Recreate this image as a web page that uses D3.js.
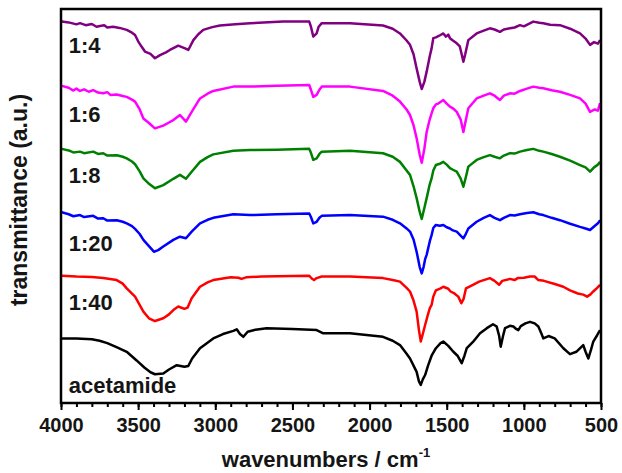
<!DOCTYPE html>
<html>
<head>
<meta charset="utf-8">
<script src="https://cdn.jsdelivr.net/npm/d3@7"></script>
<style>
  body { margin: 0; background: white; }
  text { font-family: "Liberation Sans", Arial, sans-serif; font-weight: bold; fill: #151515; }
</style>
</head>
<body>
<div id="ftir-container"></div>
<script>
/* series names, colors, vertical offsets (a.u.) and label heights above each offset */
var seriesNames = ["1:4", "1:6", "1:8", "1:20", "1:40", "acetamide"]
var seriesColors = ["#800080", "#ff00ff", "#008000", "#0000ff", "#ff0000", "#000000"]
var seriesOffsets = [80, 64, 48, 32, 16, 0]
var labelHeights = [8.8, 7.3, 7.8, 6.6, 7.6, 2.6]

/* x axis ticks */
var majorTicks = [4000, 3500, 3000, 2500, 2000, 1500, 1000, 500]
var minorTicks = d3.range(500, 4001, 100)

/* spectra: [wavenumber, transmittance a.u. above offset] */
var spec_1_4 = [[3995,16.8],[3950,16.6],[3900,16.1],[3877,16.4],[3840,15.9],[3800,16.2],[3770,15.5],[3747,15.7],[3720,15.9],[3700,15.3],[3663,15.5],[3620,15.2],[3574,14.7],[3540,14.0],[3520,13.4],[3500,11.8],[3477,10.4],[3456,9.2],[3420,8.6],[3391,7.5],[3358,8.3],[3320,9.0],[3294,9.6],[3240,10.7],[3196,10.0],[3175,9.6],[3142,12.1],[3110,13.6],[3078,14.7],[3020,15.4],[2970,15.8],[2870,16.1],[2775,16.4],[2561,16.8],[2391,16.8],[2380,15.5],[2365,13.0],[2343,13.8],[2330,15.5],[2310,16.4],[2127,16.4],[1913,15.8],[1850,15.0],[1803,13.8],[1760,12.0],[1738,10.9],[1715,8.5],[1695,4.9],[1675,1.5],[1662,-0.3],[1645,1.5],[1630,4.1],[1610,8.0],[1598,10.0],[1587,12.6],[1570,12.8],[1555,13.1],[1540,13.4],[1522,13.8],[1505,13.0],[1490,13.5],[1479,12.6],[1460,12.0],[1435,11.3],[1415,10.5],[1400,8.0],[1392,6.6],[1380,8.5],[1360,12.1],[1306,13.8],[1260,14.5],[1220,15.1],[1190,14.8],[1155,14.2],[1130,14.8],[1090,15.1],[1060,15.3],[1025,15.9],[1000,15.6],[939,16.8],[900,16.5],[874,16.4],[830,16.0],[766,15.9],[700,15.0],[636,13.8],[600,12.5],[571,10.9],[545,11.6],[520,11.2],[506,12.1]]
var spec_1_6 = [[3995,16.5],[3950,16.0],[3920,15.3],[3900,15.8],[3877,15.2],[3850,15.6],[3820,15.0],[3791,15.4],[3760,14.8],[3726,14.6],[3700,14.9],[3680,14.2],[3639,14.3],[3600,13.9],[3574,13.7],[3540,13.0],[3520,12.5],[3490,10.5],[3466,8.2],[3434,7.2],[3391,5.7],[3337,6.4],[3300,7.2],[3272,7.8],[3229,9.1],[3190,7.4],[3153,9.9],[3099,13.3],[3050,14.5],[3013,15.2],[2883,16.3],[2775,16.3],[2600,16.5],[2391,16.7],[2380,15.5],[2365,13.7],[2343,14.2],[2325,15.5],[2310,16.3],[2127,16.3],[1913,15.2],[1850,14.0],[1803,12.5],[1760,10.5],[1738,9.1],[1715,6.5],[1695,3.2],[1675,-1.0],[1662,-3.0],[1645,0.5],[1630,4.8],[1610,8.0],[1598,9.5],[1587,10.8],[1570,11.8],[1555,12.0],[1522,12.9],[1500,12.0],[1479,11.2],[1460,10.8],[1435,9.9],[1410,8.0],[1392,4.8],[1375,8.0],[1360,10.8],[1306,13.3],[1260,14.0],[1220,14.6],[1190,14.0],[1155,12.9],[1130,14.0],[1090,14.6],[1060,14.5],[1025,15.2],[980,15.8],[939,16.3],[900,16.0],[874,15.9],[820,15.4],[766,15.0],[700,14.2],[636,13.3],[600,12.0],[571,9.9],[540,10.5],[520,10.2],[506,12.1]]
var spec_1_8 = [[3995,16.5],[3950,16.1],[3920,15.6],[3877,15.8],[3850,15.4],[3791,15.8],[3760,15.2],[3726,15.4],[3700,14.8],[3639,14.9],[3600,14.5],[3574,14.1],[3540,13.3],[3520,12.6],[3490,10.8],[3466,9.0],[3434,7.8],[3391,6.5],[3337,7.3],[3272,8.9],[3229,9.9],[3190,8.9],[3153,10.7],[3099,13.2],[3050,14.4],[3013,15.1],[2883,16.0],[2775,16.2],[2600,16.3],[2391,16.5],[2380,15.5],[2365,13.7],[2343,14.1],[2325,15.2],[2310,15.8],[2127,16.0],[1913,15.4],[1850,14.5],[1803,13.2],[1760,11.0],[1738,9.9],[1715,7.0],[1695,4.0],[1675,0.5],[1662,-1.3],[1645,1.5],[1630,4.0],[1610,7.5],[1598,9.0],[1587,11.0],[1570,12.4],[1540,12.8],[1522,13.2],[1500,12.5],[1479,11.6],[1460,11.2],[1435,10.7],[1410,9.0],[1392,6.9],[1375,9.5],[1360,12.0],[1306,13.7],[1260,14.4],[1220,14.9],[1190,14.5],[1155,14.1],[1130,14.8],[1090,15.4],[1060,15.3],[1025,15.8],[980,16.2],[939,16.5],[900,16.0],[874,15.8],[820,15.2],[766,14.5],[700,13.5],[636,12.4],[600,11.8],[571,10.7],[545,11.8],[520,12.5],[506,13.2]]
var spec_1_20 = [[3995,16.4],[3950,15.9],[3920,15.4],[3877,15.7],[3850,15.2],[3791,15.5],[3760,14.8],[3726,14.9],[3700,14.3],[3639,14.4],[3600,14.0],[3574,13.6],[3540,12.9],[3520,12.2],[3490,10.9],[3466,9.4],[3430,7.8],[3398,6.4],[3370,6.8],[3337,7.7],[3272,9.4],[3229,10.2],[3190,9.8],[3153,11.5],[3099,13.6],[3050,14.5],[3013,15.0],[2883,15.9],[2775,15.7],[2600,15.9],[2391,16.1],[2380,15.2],[2365,13.6],[2343,14.0],[2325,15.0],[2310,15.5],[2127,15.7],[1913,15.3],[1850,14.5],[1803,13.6],[1760,12.3],[1738,11.5],[1715,9.5],[1695,6.4],[1675,2.5],[1662,0.9],[1650,2.5],[1640,4.5],[1630,5.6],[1610,9.0],[1598,10.6],[1587,12.4],[1570,13.2],[1545,13.0],[1522,13.2],[1500,12.6],[1479,12.3],[1460,11.8],[1435,11.5],[1410,10.5],[1392,9.8],[1375,11.0],[1360,12.3],[1306,14.0],[1260,15.0],[1220,15.7],[1190,15.0],[1155,14.4],[1130,15.0],[1090,15.7],[1060,15.6],[1025,15.9],[980,16.2],[939,16.4],[900,15.9],[874,15.7],[820,15.0],[766,14.4],[700,13.5],[636,12.7],[600,12.3],[571,11.9],[545,12.8],[520,13.6],[506,14.4]]
var spec_1_40 = [[3995,16.3],[3900,16.1],[3800,16.0],[3726,15.7],[3639,15.2],[3600,14.3],[3574,13.1],[3520,11.0],[3466,7.2],[3430,5.5],[3391,4.8],[3337,5.5],[3300,6.5],[3272,7.6],[3240,8.5],[3200,7.9],[3180,8.2],[3153,10.6],[3099,13.5],[3050,14.6],[3013,15.2],[2900,15.9],[2850,15.8],[2830,15.5],[2800,15.9],[2700,16.1],[2391,16.3],[2375,15.6],[2360,15.2],[2343,15.7],[2310,16.1],[2127,16.1],[1913,15.7],[1850,15.2],[1803,14.8],[1760,13.2],[1738,12.3],[1715,10.0],[1695,7.2],[1680,2.5],[1668,-0.4],[1655,1.5],[1640,3.8],[1625,6.0],[1610,8.0],[1598,8.9],[1587,11.0],[1570,12.6],[1540,13.1],[1522,13.5],[1490,13.0],[1475,12.3],[1450,11.8],[1425,11.0],[1405,9.3],[1390,10.5],[1375,13.1],[1330,14.0],[1290,14.8],[1220,15.7],[1190,15.0],[1160,14.0],[1140,15.0],[1090,15.5],[1060,15.2],[1040,15.7],[1000,15.8],[960,16.1],[930,16.1],[906,15.2],[870,15.0],[800,14.2],[744,13.5],[701,12.6],[650,11.8],[615,11.5],[590,11.0],[570,11.5],[550,12.3],[525,13.2],[506,14.0]]
var spec_acetamide = [[3995,16.4],[3900,16.4],[3800,16.2],[3750,15.8],[3700,15.2],[3640,14.2],[3574,13.0],[3510,10.8],[3460,9.0],[3420,7.8],[3391,7.3],[3337,7.5],[3300,8.5],[3250,9.6],[3200,9.2],[3175,9.4],[3150,11.3],[3099,13.9],[3013,16.4],[2950,17.5],[2883,18.3],[2861,18.7],[2840,17.5],[2818,16.8],[2790,18.1],[2740,18.6],[2667,19.0],[2500,18.8],[2343,18.5],[2300,17.7],[2127,17.7],[1913,16.8],[1850,15.8],[1803,14.7],[1760,12.5],[1738,11.3],[1715,9.5],[1695,7.9],[1680,5.5],[1668,4.6],[1655,6.0],[1640,7.1],[1620,9.6],[1598,12.0],[1570,13.9],[1540,15.2],[1522,15.6],[1490,14.5],[1457,13.0],[1430,12.0],[1403,10.1],[1385,12.0],[1370,13.9],[1330,15.5],[1284,17.7],[1240,19.0],[1200,20.0],[1176,19.4],[1160,17.0],[1150,14.3],[1135,17.0],[1122,19.0],[1090,19.6],[1068,19.4],[1050,18.8],[1036,18.5],[1020,19.5],[990,20.2],[960,20.6],[930,20.2],[906,19.4],[885,17.5],[874,16.4],[840,17.0],[800,16.4],[744,13.9],[701,12.4],[660,13.0],[615,14.7],[600,13.0],[582,11.3],[565,13.5],[550,15.6],[525,17.2],[506,18.5]]

var spectra = [spec_1_4, spec_1_6, spec_1_8, spec_1_20, spec_1_40, spec_acetamide]

/* layout */
var layout = {
    width: 622,
    height: 473,
    left: 61,
    right: 601,
    top: 9,
    bottom: 403,
    lineStrokeW: 2.5,
    frameStrokeW: 2.5,
    majorTick: 7,
    minorTick: 4,
    tickFont: 20,
    labelFont: 22,
    titleFont: 22
}

var svg = d3.select("#ftir-container")
      .append("svg")
      .attr("width", layout.width)
      .attr("height", layout.height)

/* scales */
var x = d3.scaleLinear()
      .domain([4000, 500])
      .range([layout.left, layout.right])
var y = d3.scaleLinear()
      .domain([0, 100])
      .range([layout.bottom, layout.top])

/* draw spectra */
var lineFn = function(offset) {
  return d3.line()
    .x(function(d) { return x(d[0]) })
    .y(function(d) { return y(d[1] + offset) })
}
spectra.forEach(function(data, i) {
    svg.append("path")
      .attr("d", lineFn(seriesOffsets[i])(data))
      .attr("fill", "none")
      .attr("stroke", seriesColors[i])
      .attr("stroke-width", layout.lineStrokeW)
      .attr("stroke-linejoin", "round")
})

/* series labels */
seriesNames.forEach(function(name, i) {
    svg.append("text")
      .attr("x", x(3950))
      .attr("y", y(seriesOffsets[i] + labelHeights[i]))
      .style("font-size", layout.labelFont + "px")
      .text(name)
})

/* frame */
svg.append("rect")
      .attr("x", layout.left)
      .attr("y", layout.top)
      .attr("width", layout.right - layout.left)
      .attr("height", layout.bottom - layout.top)
      .attr("fill", "none")
      .attr("stroke", "#000")
      .attr("stroke-width", layout.frameStrokeW)

/* bottom axis: minor then major ticks */
var minorAxis = svg.append("g")
      .attr("transform", "translate(0," + layout.bottom + ")")
      .call(d3.axisBottom(x).tickValues(minorTicks).tickSize(layout.minorTick).tickFormat(""))
minorAxis.select(".domain").remove()
minorAxis.selectAll("line").attr("stroke", "#000").attr("stroke-width", 2)

var majorAxis = svg.append("g")
      .attr("transform", "translate(0," + layout.bottom + ")")
      .call(d3.axisBottom(x).tickValues(majorTicks).tickSize(layout.majorTick).tickPadding(8).tickFormat(d3.format("d")))
majorAxis.select(".domain").remove()
majorAxis.selectAll("line").attr("stroke", "#000").attr("stroke-width", 2)
majorAxis.selectAll("text")
      .attr("fill", "#151515")
      .style("font-family", "'Liberation Sans', Arial, sans-serif")
      .style("font-weight", "bold")
      .style("font-size", layout.tickFont + "px")

/* axis titles */
var xTitle = svg.append("text")
      .attr("x", (layout.left + layout.right) / 2 - 5)
      .attr("y", 467)
      .attr("text-anchor", "middle")
      .style("font-size", layout.titleFont + "px")
xTitle.append("tspan").text("wavenumbers / cm")
xTitle.append("tspan")
      .attr("dy", -10)
      .style("font-size", "13px")
      .text("-1")

svg.append("text")
      .attr("transform", "translate(27," + ((layout.top + layout.bottom) / 2 - 6) + ") rotate(-90)")
      .attr("text-anchor", "middle")
      .style("font-size", "23px")
      .text("transmittance (a.u.)")
</script>
</body>
</html>
